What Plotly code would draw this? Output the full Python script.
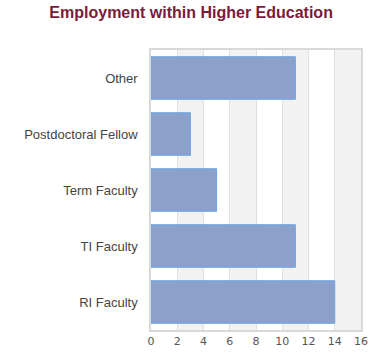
import plotly.graph_objects as go

categories = ["RI Faculty", "TI Faculty", "Term Faculty", "Postdoctoral Fellow", "Other"]
values = [14, 11, 5, 3, 11]
x_ticks = [0, 2, 4, 6, 8, 10, 12, 14, 16]

fig = go.Figure()
fig.add_trace(go.Bar(
    y=categories, x=values, orientation="h", width=0.76,
    marker=dict(color="#8ca0cc", line=dict(color="#6aa5ea", width=1)),
    hoverinfo="x+y",
))

shapes = []
for i in range(len(x_ticks) - 1):
    if i % 2 == 1:
        shapes.append(dict(type="rect", xref="x", yref="paper",
                           x0=x_ticks[i], x1=x_ticks[i + 1], y0=0, y1=1,
                           fillcolor="#f2f2f2", line=dict(width=0), layer="below"))

fig.update_layout(
    width=380, height=360,
    margin=dict(l=151, r=19, t=50, b=30),
    paper_bgcolor="white", plot_bgcolor="white",
    title=dict(text="<b>Employment within Higher Education</b>", x=0.503, xanchor="center",
               y=0.965, yanchor="middle",
               font=dict(family="Liberation Sans, Arial", size=16, color="#7b1a3b")),
    shapes=shapes,
    showlegend=False,
    bargap=0.24,
)
fig.update_xaxes(range=[0, 16], tickvals=x_ticks, showgrid=True, gridcolor="#e0e0e0",
                 gridwidth=1, showline=True, mirror=True, linecolor="#d9d9d9", linewidth=1.5,
                 zeroline=False, ticks="", ticklen=0,
                 tickfont=dict(family="DejaVu Sans", size=11, color="#555"))
fig.update_yaxes(showgrid=False, showline=True, mirror=True, linecolor="#d9d9d9", linewidth=1.5,
                 ticks="", ticklabelstandoff=9,
                 tickfont=dict(family="Liberation Sans, Arial", size=13, color="#444"))

fig.write_html("out.html")
